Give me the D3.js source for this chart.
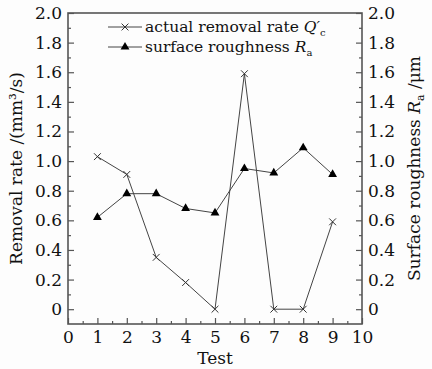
<!DOCTYPE html>
<html>
<head>
<meta charset="utf-8">
<script src="https://cdn.jsdelivr.net/npm/d3@7"></script>
<style>
  body { margin: 0; background: #fdfdfd; }
  text { font-family: "DejaVu Serif", serif; fill: #111; }
</style>
</head>
<body>
<div id="chart"></div>
<script>
const tests = [1, 2, 3, 4, 5, 6, 7, 8, 9];
const removalRate = [1.03, 0.91, 0.35, 0.18, 0, 1.59, 0, 0, 0.59];
const roughness = [0.62, 0.78, 0.78, 0.68, 0.65, 0.95, 0.92, 1.09, 0.91];
const xTicks = [0, 1, 2, 3, 4, 5, 6, 7, 8, 9, 10];
const yTicks = [0, 0.2, 0.4, 0.6, 0.8, 1.0, 1.2, 1.4, 1.6, 1.8, 2.0];

const width = 432, height = 369;
const margin = { top: 13, right: 70, bottom: 45, left: 68 };

const svg = d3.select("#chart")
  .append("svg")
  .attr("width", width)
  .attr("height", height);

const x = d3.scaleLinear()
  .domain([0, 10])
  .range([margin.left, width - margin.right]);

const y = d3.scaleLinear()
  .domain([-0.1, 2.0])
  .range([height - margin.bottom, margin.top]);

const fmt = d => d === 0 ? "0" : d3.format(".1f")(d);
const axisColor = "#555";

// bottom axis, ticks inward
svg.append("g")
  .attr("transform", "translate(0," + (height - margin.bottom) + ")")
  .call(d3.axisBottom(x).tickValues(xTicks).tickSize(-6).tickPadding(7).tickFormat(d3.format("d")));
svg.append("g")
  .attr("transform", "translate(0," + (height - margin.bottom) + ")")
  .call(d3.axisBottom(x).tickValues(d3.range(0.5, 10, 1)).tickSize(-3).tickFormat(""));

// left axis
svg.append("g")
  .attr("transform", "translate(" + margin.left + ",0)")
  .call(d3.axisLeft(y).tickValues(yTicks).tickSize(-6).tickPadding(6).tickFormat(fmt));
svg.append("g")
  .attr("transform", "translate(" + margin.left + ",0)")
  .call(d3.axisLeft(y).tickValues(d3.range(0.1, 2.0, 0.2)).tickSize(-3).tickFormat(""));

// right axis
svg.append("g")
  .attr("transform", "translate(" + (width - margin.right) + ",0)")
  .call(d3.axisRight(y).tickValues(yTicks).tickSize(-6).tickPadding(6).tickFormat(fmt));
svg.append("g")
  .attr("transform", "translate(" + (width - margin.right) + ",0)")
  .call(d3.axisRight(y).tickValues(d3.range(0.1, 2.0, 0.2)).tickSize(-3).tickFormat(""));

svg.selectAll(".domain").remove();
svg.selectAll(".tick line").attr("stroke", axisColor).attr("stroke-width", 1.2);
svg.selectAll(".tick text").style("font-size", "17px").attr("fill", "#111");

// frame
svg.append("rect")
  .attr("x", margin.left)
  .attr("y", margin.top)
  .attr("width", width - margin.left - margin.right)
  .attr("height", height - margin.top - margin.bottom)
  .attr("fill", "none")
  .attr("stroke", axisColor)
  .attr("stroke-width", 1.6);

const line = d3.line()
  .x((d, i) => x(tests[i]))
  .y(d => y(d));

// removal rate series
svg.append("path")
  .datum(removalRate)
  .attr("fill", "none")
  .attr("stroke", "#444")
  .attr("stroke-width", 1)
  .attr("d", line);

const cross = d3.symbol().type(d3.symbolX).size(32);
svg.selectAll(".cross")
  .data(removalRate)
  .enter().append("path")
  .attr("transform", (d, i) => "translate(" + x(tests[i]) + "," + y(d) + ")")
  .attr("d", cross)
  .attr("fill", "none")
  .attr("stroke", "#333")
  .attr("stroke-width", 1);

// roughness series
svg.append("path")
  .datum(roughness)
  .attr("fill", "none")
  .attr("stroke", "#444")
  .attr("stroke-width", 1)
  .attr("d", line);

const tri = d3.symbol().type(d3.symbolTriangle).size(34);
svg.selectAll(".tri")
  .data(roughness)
  .enter().append("path")
  .attr("transform", (d, i) => "translate(" + x(tests[i]) + "," + y(d) + ")")
  .attr("d", tri)
  .attr("fill", "#000");

// legend
const lg = svg.append("g");
[[27, "cross"], [47, "tri"]].forEach(([ly, kind]) => {
  lg.append("line")
    .attr("x1", 108).attr("x2", 142)
    .attr("y1", ly).attr("y2", ly)
    .attr("stroke", "#444").attr("stroke-width", 1);
  lg.append("path")
    .attr("transform", "translate(125," + ly + ")")
    .attr("d", kind === "cross" ? cross : tri)
    .attr("fill", kind === "cross" ? "none" : "#000")
    .attr("stroke", kind === "cross" ? "#333" : "none");
});
const t1 = lg.append("text").attr("x", 145).attr("y", 32).style("font-size", "15.5px");
t1.append("tspan").text("actual removal rate ");
t1.append("tspan").style("font-style", "italic").text("Q′");
t1.append("tspan").attr("dy", 4).style("font-size", "10px").text("c");
const t2 = lg.append("text").attr("x", 145).attr("y", 52).style("font-size", "15.5px");
t2.append("tspan").text("surface roughness ");
t2.append("tspan").style("font-style", "italic").text("R");
t2.append("tspan").attr("dy", 4).style("font-size", "10px").text("a");

// axis titles
svg.append("text")
  .attr("x", x(5)).attr("y", 364)
  .attr("text-anchor", "middle")
  .style("font-size", "17px")
  .text("Test");

svg.append("text")
  .attr("transform", "translate(22," + y(0.95) + ") rotate(-90)")
  .attr("text-anchor", "middle")
  .style("font-size", "17px")
  .text("Removal rate /(mm³/s)");

const rt = svg.append("text")
  .attr("transform", "translate(420," + y(0.95) + ") rotate(-90)")
  .attr("text-anchor", "middle")
  .style("font-size", "17px");
rt.append("tspan").text("Surface roughness ");
rt.append("tspan").style("font-style", "italic").text("R");
rt.append("tspan").attr("dy", 4).style("font-size", "11px").text("a");
rt.append("tspan").attr("dy", -4).text(" /μm");
</script>
</body>
</html>
